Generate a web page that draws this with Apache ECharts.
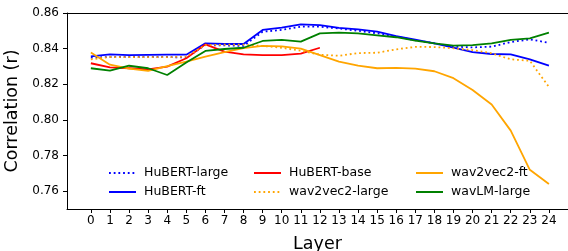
<!DOCTYPE html>
<html>
<head>
<meta charset="utf-8">
<script src="https://cdn.jsdelivr.net/npm/echarts@6/dist/echarts.min.js"></script>
<style>html,body{margin:0;padding:0;background:#fff}#c{width:568px;height:251px}</style>
</head>
<body>
<div id="c"></div>
<script>
const layers = [0,1,2,3,4,5,6,7,8,9,10,11,12,13,14,15,16,17,18,19,20,21,22,23,24];
const yTicks = [0.76,0.78,0.80,0.82,0.84,0.86];
const hubertLarge = [0.8350,0.8353,0.8353,0.8353,0.8353,0.8350,0.8420,0.8418,0.8415,0.8495,0.8505,0.8523,0.8523,0.8513,0.8500,0.8486,0.8468,0.8447,0.8430,0.8411,0.8407,0.8411,0.8437,0.8452,0.8433];
const hubertFt = [0.8357,0.8368,0.8364,0.8365,0.8366,0.8366,0.8430,0.8426,0.8426,0.8505,0.8518,0.8536,0.8532,0.8516,0.8508,0.8495,0.8470,0.8450,0.8430,0.8405,0.8380,0.8370,0.8368,0.8340,0.8305];
const hubertBase = [0.8318,0.8295,0.8290,0.8284,0.8299,0.8346,0.8424,0.8383,0.8368,0.8364,0.8364,0.8372,0.8405];
const wav2vec2Large = [0.8340,0.8353,0.8352,0.8352,0.8352,0.8355,0.8420,0.8422,0.8422,0.8415,0.8405,0.8388,0.8366,0.8360,0.8375,0.8377,0.8396,0.8410,0.8409,0.8402,0.8392,0.8374,0.8340,0.8332,0.8185];
const wav2vec2Ft = [0.8378,0.8310,0.8288,0.8275,0.8302,0.8327,0.8355,0.8380,0.8403,0.8415,0.8413,0.8400,0.8364,0.8327,0.8305,0.8290,0.8292,0.8288,0.8273,0.8234,0.8168,0.8087,0.7940,0.7720,0.7640];
const wavlmLarge = [0.8290,0.8276,0.8304,0.8290,0.8252,0.8322,0.8387,0.8398,0.8405,0.8443,0.8449,0.8439,0.8486,0.8490,0.8486,0.8475,0.8464,0.8445,0.8430,0.8417,0.8420,0.8430,0.8449,0.8458,0.8490];

const FONT = 'DejaVu Sans';
function pts(arr){ return arr.map((v,i)=>[layers[i], v]); }
function ser(name, arr, color, dotted){
  return {
    name: name, type: 'line', data: pts(arr), symbol: 'none', silent: true,
    lineStyle: {color: color, width: 1.8, type: dotted ? [1.8, 2.9] : 'solid', cap: 'butt'},
    itemStyle: {color: color}
  };
}
const chart = echarts.init(document.getElementById('c'), null, {renderer: 'canvas'});
const legendCommon = {
  orient: 'vertical', itemWidth: 27, itemHeight: 12, itemGap: 5, top: 166, padding: 0,
  itemStyle: {opacity: 0},
  textStyle: {fontFamily: FONT, fontSize: 12.5, color: '#000', padding: [0,0,0,3], lineHeight: 14},
  selectedMode: false
};
chart.setOption({
  animation: false,
  backgroundColor: '#fff',
  grid: {left: 67, top: 13, right: 0, bottom: 42, outerBoundsMode: 'none', containLabel: false},
  legend: [
    Object.assign({}, legendCommon, {left: 108, data: ['HuBERT-large','HuBERT-ft']}),
    Object.assign({}, legendCommon, {left: 253, data: ['HuBERT-base','wav2vec2-large']}),
    Object.assign({}, legendCommon, {left: 415, data: ['wav2vec2-ft','wavLM-large']})
  ],
  xAxis: [{
    type: 'value', min: -1.25, max: 25,
    name: 'Layer', nameLocation: 'middle', nameGap: 26,
    nameTextStyle: {fontFamily: FONT, fontSize: 17.5, color: '#000'},
    axisLine: {show: true, onZero: false, lineStyle: {color: '#000', width: 1}},
    axisTick: {show: true, length: 4, customValues: layers, lineStyle: {color: '#000'}},
    axisLabel: {customValues: layers, margin: 6, fontFamily: FONT, fontSize: 12, color: '#000'},
    splitLine: {show: false}
  }, {
    type: 'value', position: 'top', min: -1.25, max: 25,
    axisLine: {show: true, onZero: false, lineStyle: {color: '#000', width: 1}},
    axisTick: {show: false}, axisLabel: {show: false}, splitLine: {show: false}
  }],
  yAxis: {
    type: 'value', min: 0.75, max: 0.86,
    name: 'Correlation (r)', nameLocation: 'middle', nameGap: 37,
    nameTextStyle: {fontFamily: FONT, fontSize: 17.5, color: '#000'},
    axisLine: {show: true, onZero: false, lineStyle: {color: '#000', width: 1}},
    axisTick: {show: true, length: 4, customValues: yTicks, lineStyle: {color: '#000'}},
    axisLabel: {customValues: yTicks, margin: 8, fontFamily: FONT, fontSize: 12, color: '#000',
      formatter: v => v.toFixed(2)},
    splitLine: {show: false}
  },
  series: [
    ser('HuBERT-large', hubertLarge, '#0000ff', true),
    ser('HuBERT-ft', hubertFt, '#0000ff', false),
    ser('HuBERT-base', hubertBase, '#ff0000', false),
    ser('wav2vec2-large', wav2vec2Large, '#ffa500', true),
    ser('wav2vec2-ft', wav2vec2Ft, '#ffa500', false),
    ser('wavLM-large', wavlmLarge, '#008000', false)
  ]
});
</script>
</body>
</html>
